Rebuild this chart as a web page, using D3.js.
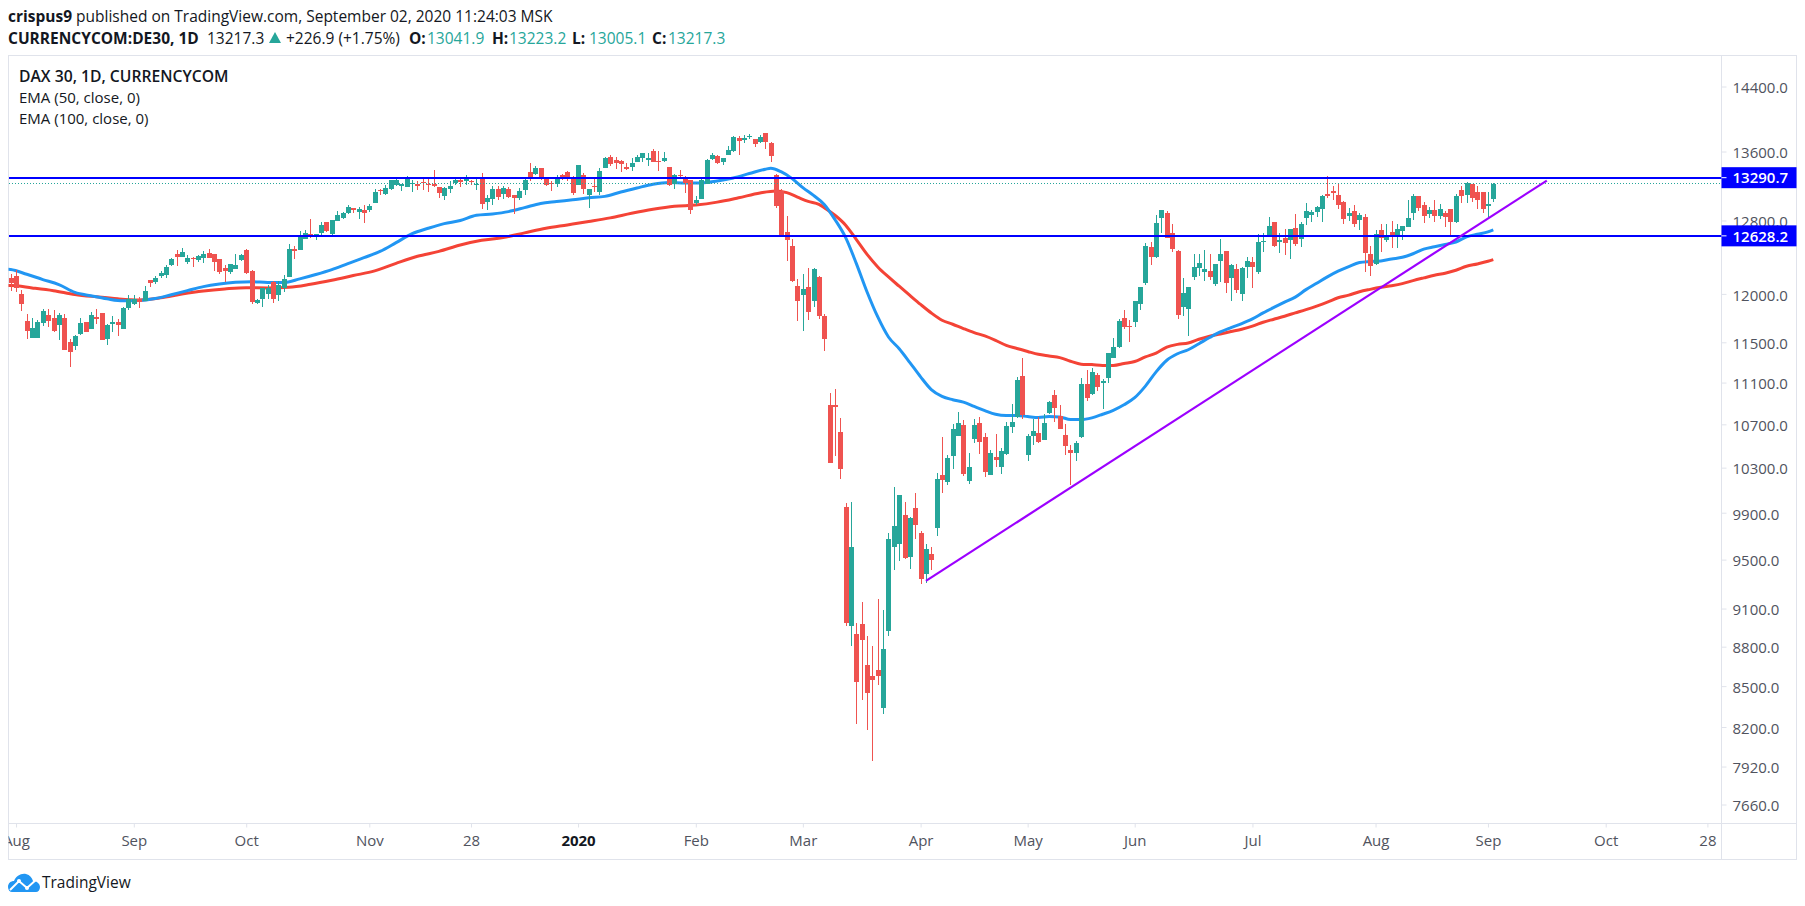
<!DOCTYPE html>
<html>
<head>
<meta charset="utf-8">
<script src="https://cdn.jsdelivr.net/npm/d3@7"></script>
<style>
  html, body { margin: 0; padding: 0; background: #fff; overflow: hidden; }
  svg { display: block; }
  text { font-family: "Open Sans", "Noto Sans", sans-serif; }
</style>
</head>
<body>
<script>
// daily candles, one value per trading day, Jul 31 2019 .. Sep 2 2020
var opens = [
  12166,12188,12002,11715,11545,11545,11698,11777,11746,11674,
  11746,11500,11459,11582,11705,11637,11756,11797,11531,11688,
  11705,11637,11848,11892,11948,11930,12145,12123,12191,12198,
  12306,12424,12392,12338,12385,12360,12385,12434,12424,12370,
  12274,12234,12270,12360,12467,12242,11900,11941,11995,12123,
  11984,12059,12177,12478,12467,12590,12654,12624,12658,12781,
  12646,12796,12825,12882,12937,12896,12915,12915,12993,13144,
  13097,13156,13210,13199,13183,13214,13222,13245,13222,13214,
  13179,13074,13156,13230,13269,13253,13257,13210,13284,13015,
  13039,13156,13097,13156,13085,13050,13144,13355,13331,13401,
  13273,13234,13214,13319,13355,13296,13203,13319,13085,13191,
  13121,13401,13530,13495,13483,13413,13413,13472,13518,13495,
  13612,13487,13483,13413,13214,13319,13296,13261,12993,13039,
  13214,13506,13541,13472,13563,13612,13759,13734,13775,13746,
  13710,13820,13697,13319,13132,12669,12512,12080,11984,12070,
  11920,12177,11767,10880,10880,10626,9947,8960,8897,8975,
  8658,8574,8620,8335,8920,9610,9628,9878,9518,9938,
  9723,9378,9551,9766,10231,10169,10402,10588,10691,10178,
  10560,10710,10578,10231,10393,10303,10420,10673,10767,11163,
  10411,10588,10616,10550,10805,10976,10776,10597,10465,10429,
  10578,11084,10986,11172,11094,11143,11339,11449,11746,11664,
  11705,11889,12113,12501,12392,12825,12881,12657,12456,11858,
  11838,12177,12274,12231,12241,12102,12349,12456,12166,12263,
  11994,12284,12338,12231,12556,12624,12781,12556,12601,12579,
  12713,12590,12825,12859,12893,12926,13097,13132,13085,13005,
  12848,12904,12803,12837,12424,12317,12691,12579,12669,12635,
  12680,12725,12881,13073,12971,12870,12915,12848,12881,12926,
  12781,13144,13085,13214,13120,13120,12960,13041.9
]
var highs = [
  12216,12259,12044,11794,11746,11725,11845,11845,11828,11804,
  11787,11538,11572,11753,11712,11814,11845,11804,11691,11774,
  11736,11862,11984,11984,11966,12080,12145,12188,12245,12306,
  12388,12467,12489,12413,12395,12413,12456,12478,12431,12378,
  12306,12324,12424,12431,12486,12252,11948,12066,12091,12134,
  12134,12198,12535,12512,12680,12691,12814,12654,12781,12788,
  12810,12904,12893,12971,12945,12949,12971,12982,13156,13156,
  13203,13261,13300,13222,13308,13269,13249,13280,13288,13378,
  13179,13179,13249,13300,13292,13319,13269,13300,13345,13085,
  13190,13190,13190,13179,13085,13168,13300,13460,13425,13401,
  13284,13249,13319,13331,13366,13308,13436,13343,13156,13284,
  13401,13530,13553,13530,13495,13460,13518,13553,13577,13577,
  13636,13612,13600,13413,13331,13378,13308,13261,13074,13273,
  13506,13588,13553,13518,13661,13783,13783,13795,13807,13746,
  13795,13820,13710,13331,13156,12848,12590,12156,12209,12274,
  12274,12188,11787,10996,11035,10757,9981,9990,8983,9156,
  8881,8802,9180,9085,9722,10124,10052,9990,9860,10070,
  9740,9628,9602,10249,10578,10411,10701,10814,10739,10429,
  10748,10767,10616,10465,10607,10475,10720,10889,11153,11339,
  10607,10748,10767,10795,10917,11025,10880,10701,10503,10541,
  11143,11222,11241,11192,11133,11389,11541,11735,11828,11725,
  11930,12070,12545,12556,12859,12915,12904,12758,12467,12166,
  12070,12424,12424,12467,12424,12317,12590,12456,12317,12317,
  12284,12392,12392,12646,12657,12837,12781,12657,12702,12702,
  12870,12781,12993,12915,12960,13085,13308,13191,13214,13016,
  12937,12971,12881,12870,12512,12691,12758,12758,12792,12758,
  12736,13038,13097,13073,13005,12949,13038,12982,12904,12926,
  13097,13191,13238,13214,13191,13120,13120,13223.2
]
var lows = [
  12030,12020,11817,11535,11545,11545,11667,11657,11606,11521,
  11418,11255,11418,11572,11606,11637,11691,11524,11469,11606,
  11565,11637,11828,11882,11852,11920,12073,12102,12170,12170,
  12295,12295,12392,12317,12288,12338,12331,12385,12245,12216,
  12127,12216,12263,12349,12209,11896,11896,11862,11948,11903,
  11930,12020,12177,12370,12467,12590,12602,12587,12624,12669,
  12635,12796,12814,12870,12882,12814,12769,12893,12993,13085,
  13085,13144,13191,13136,13183,13125,13144,13152,13121,13183,
  13050,13027,13113,13203,13183,13203,13203,13144,12935,12915,
  12979,13027,13039,13058,12870,13027,13085,13249,13319,13261,
  13191,13132,13179,13261,13249,13085,13203,13097,12937,13125,
  13085,13401,13425,13390,13355,13378,13366,13472,13472,13425,
  13472,13366,13472,13191,13156,13273,13109,12870,12971,13039,
  13214,13495,13448,13436,13553,13600,13563,13697,13746,13649,
  13697,13636,13479,12945,12613,12349,12123,11715,11613,11725,
  11858,11736,11408,10339,10402,10196,8960,8803,8220,8400,
  8177,7957,8506,8292,8881,9411,9485,9502,9420,9671,
  9296,9304,9411,9697,10070,10142,10285,10588,10222,10151,
  10522,10420,10213,10231,10303,10240,10411,10616,10757,10748,
  10357,10503,10522,10550,10795,10720,10654,10411,10142,10357,
  10569,10918,10976,11015,10842,11094,11339,11439,11633,11500,
  11654,11828,12091,12306,12381,12657,12601,12446,11735,11766,
  11561,12145,12188,12134,12145,12080,12123,12005,11920,12005,
  11930,12166,12059,12209,12446,12624,12501,12435,12413,12370,
  12512,12501,12747,12781,12837,12781,13050,13038,12926,12758,
  12792,12725,12691,12231,12188,12306,12446,12556,12489,12489,
  12579,12725,12803,12904,12769,12825,12781,12814,12725,12613,
  12769,12993,12993,13005,12926,12881,12837,13005.1
]
var closes = [
  12120,12063,11892,11616,11643,11712,11825,11715,11616,11777,
  11418,11402,11562,11695,11606,11777,11736,11524,11674,11705,
  11678,11848,11948,11948,11910,12027,12113,12166,12220,12284,
  12370,12395,12445,12381,12374,12410,12424,12385,12342,12234,
  12245,12317,12313,12413,12220,11910,11937,12059,12066,11941,
  12091,12156,12478,12463,12624,12658,12635,12646,12747,12680,
  12803,12867,12882,12949,12919,12926,12882,12960,13121,13140,
  13168,13261,13261,13214,13273,13234,13199,13230,13203,13199,
  13109,13168,13191,13261,13238,13300,13241,13222,12987,13050,
  13156,13062,13168,13062,13054,13132,13261,13296,13401,13273,
  13206,13222,13296,13273,13273,13109,13436,13156,13156,13179,
  13366,13518,13448,13460,13448,13390,13460,13530,13577,13518,
  13472,13479,13518,13203,13319,13308,13226,12915,13027,13261,
  13495,13563,13460,13518,13624,13771,13722,13759,13787,13685,
  13771,13710,13541,12960,12624,12579,12134,11920,12048,11808,
  12263,11767,11531,10339,10861,10285,8983,9603,8529,8850,
  8446,8544,8574,8779,9670,9783,10052,9510,9852,9792,
  9337,9593,9494,10196,10187,10384,10654,10710,10240,10303,
  10691,10531,10258,10429,10366,10456,10682,10720,11123,10786,
  10588,10635,10531,10710,10908,10852,10654,10494,10438,10522,
  11084,10947,11202,11055,11113,11389,11449,11715,11654,11654,
  11920,12070,12512,12392,12769,12915,12601,12478,11776,12005,
  12070,12284,12327,12263,12177,12317,12424,12113,12306,12037,
  12274,12349,12284,12556,12568,12736,12512,12579,12545,12702,
  12534,12758,12904,12893,12949,13073,13073,13109,12971,12814,
  12881,12758,12859,12435,12295,12646,12601,12613,12635,12702,
  12736,12825,13073,12937,12848,12915,12848,12926,12837,12781,
  13073,13073,13226,13050,13038,12926,12990,13217.3
]

// EMA readings: bar index, value
var ema50Bars = [-1,0,3,6,9,12,15,18,21,24,27,30,33,36,39,42,45,48,51,54,57,60,63,66,69,72,75,78,81,84,87,90,93,96,99,102,105,108,111,114,117,120,123,126,129,132,135,138,141,142,144,146,148,150,152,154,156,158,160,162,164,166,168,170,172,174,176,178,180,182,184,186,188,190,192,194,196,198,200,202,204,206,208,210,212,214,216,218,220,222,224,226,228,230,232,234,236,238,240,242,244,246,248,250,252,254,256,258,260,262,264,266,268,270,272,274,276,277]
var ema50Vals = [12263,12259,12209,12152,12098,12016,11980,11948,11927,11930,11951,11991,12034,12077,12105,12123,12130,12120,12120,12159,12206,12259,12324,12388,12456,12553,12653,12713,12765,12799,12859,12874,12900,12945,12993,13015,13035,13058,13074,13125,13171,13214,13234,13230,13230,13253,13288,13339,13390,13402,13358,13280,13175,13085,12982,12811,12609,12324,12020,11759,11554,11435,11297,11156,11032,10966,10934,10911,10870,10830,10795,10783,10783,10773,10764,10773,10770,10745,10745,10761,10795,10833,10886,10953,11065,11205,11320,11385,11425,11486,11548,11606,11650,11691,11739,11801,11858,11913,11966,12045,12113,12181,12242,12292,12335,12346,12353,12374,12392,12431,12482,12508,12534,12560,12616,12646,12672,12694]
var ema100Bars = [-1,0,4,8,12,16,20,24,28,32,36,40,44,48,52,56,60,64,68,72,76,80,84,88,92,96,100,104,108,112,116,120,124,128,132,136,140,143,145,147,149,151,152,154,156,158,160,162,164,166,168,170,172,174,176,178,180,182,184,186,188,190,192,194,196,198,200,202,204,206,208,210,212,214,216,218,220,222,224,226,228,230,232,234,236,238,240,242,244,246,248,250,252,254,256,258,260,262,264,266,268,270,272,274,276,277]
var ema100Vals = [12088,12088,12063,12034,11994,11969,11948,11937,11959,11998,12030,12052,12066,12063,12070,12102,12145,12195,12245,12327,12403,12457,12527,12579,12609,12661,12713,12750,12788,12829,12881,12926,12960,12975,13008,13058,13113,13136,13117,13066,13016,12982,12945,12859,12747,12586,12424,12288,12180,12081,11984,11889,11800,11725,11684,11640,11599,11565,11520,11468,11438,11408,11379,11362,11346,11310,11281,11277,11268,11268,11287,11307,11353,11392,11452,11479,11493,11531,11562,11585,11609,11633,11664,11705,11736,11767,11801,11835,11872,11913,11959,11987,12023,12048,12070,12087,12109,12141,12170,12198,12220,12252,12295,12320,12349,12367]

// drawn levels and trend line
var levels = [13290.7, 12628.2]
var lastClose = 13217.3
var trendBars = [171, 287]
var trendVals = [9324, 13257]

var priceTicks = [14400,13600,12800,12000,11500,11100,10700,10300,9900,9500,9100,8800,8500,8200,7920,7660]
var timeBars = [1,23,44,67,86,106,128,148,170,190,210,232,255,276,298,317]
var timeLabels = ["Aug","Sep","Oct","Nov","28","2020","Feb","Mar","Apr","May","Jun","Jul","Aug","Sep","Oct","28"]

var width = 1805, height = 906
var pane = { left: 8.5, right: 1721.5, top: 55.5, bottom: 823.5, outer: 1796.5, foot: 859.5 }
var green = "#26a69a", red = "#ef5350", frame = "#e0e3eb", axisText = "#50535e", levelBlue = "#0000ff"

var x = d3.scaleLinear().domain([0, 277]).range([10.7, 1493.3])
var y = d3.scaleLog().domain([14400, 7660]).range([86.5, 804.5])

var svg = d3.select("body").append("svg").attr("width", width).attr("height", height)

svg.append("defs").append("clipPath").attr("id", "pane-clip")
  .append("rect").attr("x", pane.left).attr("y", pane.top)
  .attr("width", pane.right - pane.left).attr("height", height)

// frame
svg.append("rect").attr("x", pane.left).attr("y", pane.top)
  .attr("width", pane.outer - pane.left).attr("height", pane.foot - pane.top)
  .attr("fill", "none").attr("stroke", frame)
svg.append("line").attr("x1", pane.right).attr("x2", pane.right).attr("y1", pane.top).attr("y2", pane.foot).attr("stroke", frame)
svg.append("line").attr("x1", pane.left).attr("x2", pane.outer).attr("y1", pane.bottom).attr("y2", pane.bottom).attr("stroke", frame)

// axes
var yAxis = svg.append("g").attr("transform", "translate(" + pane.right + ",0)")
  .call(d3.axisRight(y).tickValues(priceTicks).tickFormat(d3.format(".1f")).tickSize(5).tickPadding(6))
yAxis.select(".domain").remove()
yAxis.selectAll("line").attr("stroke", frame)
yAxis.selectAll("text").attr("fill", axisText).attr("font-size", 15).attr("font-family", '"Open Sans"').attr("dy", "0.42em")

var xAxis = svg.append("g").attr("clip-path", "url(#pane-clip)").append("g")
  .attr("transform", "translate(0," + pane.bottom + ")")
  .call(d3.axisBottom(x).tickValues(timeBars).tickFormat(function(d, i) { return timeLabels[i] }).tickSize(4).tickPadding(8))
xAxis.select(".domain").remove()
xAxis.selectAll("line").attr("stroke", frame)
xAxis.selectAll("text").attr("font-size", 15).attr("font-family", '"Open Sans"')
  .attr("font-weight", function(d, i) { return timeLabels[i] == "2020" ? "bold" : "normal" })
  .attr("fill", function(d, i) { return timeLabels[i] == "2020" ? "#131722" : axisText })

var chart = svg.append("g").attr("clip-path", "url(#pane-clip)")

// EMAs sit under the candles
var emaLine = d3.line().x(function(d) { return x(d[0]) }).y(function(d) { return y(d[1]) }).curve(d3.curveMonotoneX)
chart.append("path").datum(d3.zip(ema100Bars, ema100Vals)).attr("d", emaLine)
  .attr("fill", "none").attr("stroke", "#f44336").attr("stroke-width", 3)
chart.append("path").datum(d3.zip(ema50Bars, ema50Vals)).attr("d", emaLine)
  .attr("fill", "none").attr("stroke", "#2196f3").attr("stroke-width", 3)

// candles
var bars = d3.range(opens.length)
var candle = chart.selectAll("g.candle").data(bars).enter().append("g").attr("class", "candle")
  .attr("shape-rendering", "crispEdges")
candle.append("line")
  .attr("x1", function(i) { return Math.round(x(i)) + 0.5 })
  .attr("x2", function(i) { return Math.round(x(i)) + 0.5 })
  .attr("y1", function(i) { return y(highs[i]) })
  .attr("y2", function(i) { return y(lows[i]) })
  .attr("stroke", function(i) { return closes[i] >= opens[i] ? green : red })
candle.append("rect")
  .attr("x", function(i) { return Math.round(x(i)) - 2 })
  .attr("width", 5)
  .attr("y", function(i) { return y(Math.max(opens[i], closes[i])) })
  .attr("height", function(i) { return Math.max(1, Math.abs(y(opens[i]) - y(closes[i]))) })
  .attr("fill", function(i) { return closes[i] >= opens[i] ? green : red })

// last close dotted line
chart.append("line").attr("x1", pane.left).attr("x2", pane.right).attr("y1", y(lastClose)).attr("y2", y(lastClose))
  .attr("stroke", green).attr("stroke-dasharray", "1,2").attr("shape-rendering", "crispEdges")

// horizontal levels
chart.selectAll("line.level").data(levels).enter().append("line").attr("class", "level")
  .attr("x1", pane.left).attr("x2", pane.right)
  .attr("y1", function(d) { return y(d) }).attr("y2", function(d) { return y(d) })
  .attr("stroke", levelBlue).attr("stroke-width", 2).attr("shape-rendering", "crispEdges")

// trend line
chart.append("line")
  .attr("x1", x(trendBars[0])).attr("y1", y(trendVals[0]))
  .attr("x2", x(trendBars[1])).attr("y2", y(trendVals[1]))
  .attr("stroke", "#9c00ff").attr("stroke-width", 2.2)

// level labels on the price scale
var tags = svg.selectAll("g.tag").data(levels).enter().append("g").attr("class", "tag")
tags.append("rect").attr("x", pane.right).attr("width", pane.outer - pane.right)
  .attr("y", function(d) { return y(d) - 10.5 }).attr("height", 21).attr("fill", levelBlue)
tags.append("line").attr("x1", pane.right).attr("x2", pane.right + 5)
  .attr("y1", function(d) { return y(d) }).attr("y2", function(d) { return y(d) }).attr("stroke", "#fff")
tags.append("text").attr("x", pane.right + 11).attr("y", function(d) { return y(d) })
  .attr("dy", "0.38em").attr("fill", "#fff").attr("font-size", 15).attr("font-weight", 600)
  .text(function(d) { return d3.format(".1f")(d) })

// header
var head1 = svg.append("text").attr("x", 8).attr("y", 22).attr("font-size", 15.5).attr("fill", "#131722")
head1.append("tspan").attr("font-weight", "bold").text("crispus9")
head1.append("tspan").text(" published on TradingView.com, September 02, 2020 11:24:03 MSK")

var head2 = svg.append("text").attr("y", 43.5).attr("font-size", 15.5).attr("fill", "#131722")
var head2Parts = [
  ["CURRENCYCOM:DE30, 1D", 8, "bold"], ["13217.3", 207], ["+226.9 (+1.75%)", 286],
  ["O:", 409, "bold"], ["13041.9", 427, "", green], ["H:", 492, "bold"], ["13223.2", 509, "", green],
  ["L:", 572, "bold"], ["13005.1", 589, "", green], ["C:", 652, "bold"], ["13217.3", 668, "", green]
]
head2Parts.forEach(function(p) {
  var t = head2.append("tspan").attr("x", p[1]).text(p[0])
  if (p[2]) t.attr("font-weight", p[2])
  if (p[3]) t.attr("fill", p[3])
})
svg.append("path").attr("d", "M269,43 L275,32 L281,43 Z").attr("fill", green)

// legend
var legend = svg.append("g").attr("fill", "#131722")
legend.append("text").attr("x", 19).attr("y", 82).attr("font-size", 15.7).attr("font-weight", 600).text("DAX 30, 1D, CURRENCYCOM")
legend.append("text").attr("x", 19).attr("y", 103).attr("font-size", 15).text("EMA (50, close, 0)")
legend.append("text").attr("x", 19).attr("y", 124).attr("font-size", 15).text("EMA (100, close, 0)")

// logo
var logo = svg.append("g").attr("transform", "translate(8,873)")
logo.append("path").attr("fill", "#2196f3")
  .attr("d", "M0,14 C0,10 3,8 6,8 C8,3 13,0 18,1 C22,2 24,5 25,8 C29,8 32,11 32,14 C32,17 30,19 28,19 L4,19 C2,19 0,17 0,14 Z")
logo.append("polyline").attr("fill", "none").attr("stroke", "#fff").attr("stroke-width", 2)
  .attr("points", "2,17 11,8 19,15 29,6")
logo.append("circle").attr("cx", 11).attr("cy", 8).attr("r", 2).attr("fill", "#fff")
logo.append("circle").attr("cx", 19).attr("cy", 15).attr("r", 2).attr("fill", "#fff")
svg.append("text").attr("x", 42).attr("y", 888).attr("font-size", 15.5).attr("fill", "#131722").text("TradingView")
</script>
</body>
</html>
